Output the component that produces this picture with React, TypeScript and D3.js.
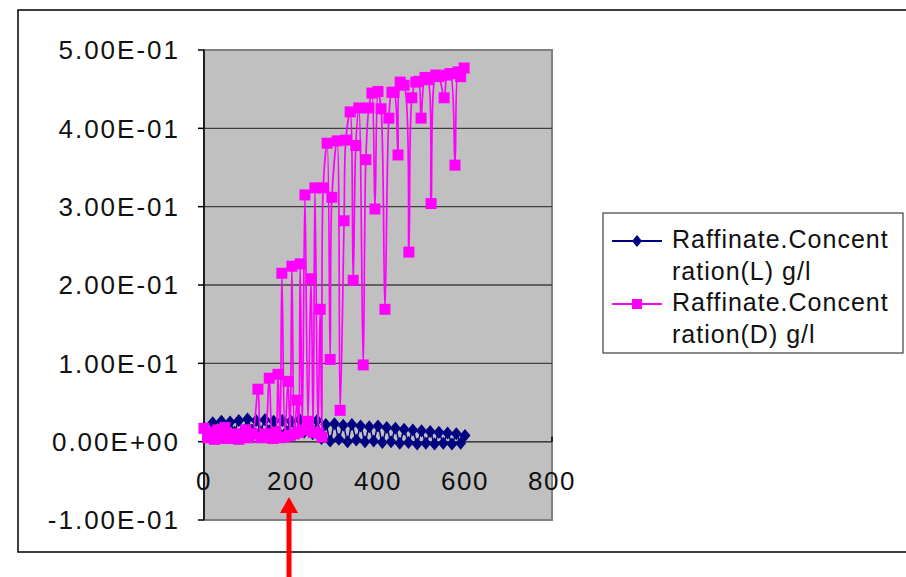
import React from "react";
import * as d3 from "d3";

const WIDTH = 906;
const HEIGHT = 577;
const PLOT = { left: 204, right: 552, top: 50, bottom: 520 };

const xTicks = [0, 200, 400, 600, 800];
const yTicks = [-0.1, 0, 0.1, 0.2, 0.3, 0.4, 0.5];
const yTickLabels = ["-1.00E-01", "0.00E+00", "1.00E-01", "2.00E-01", "3.00E-01", "4.00E-01", "5.00E-01"];

const seriesNames = [
  ["Raffinate.Concent", "ration(L) g/l"],
  ["Raffinate.Concent", "ration(D) g/l"],
];

// Raffinate L (x, g/l)
const lTime = [
  0, 10, 20, 30, 40, 50, 60, 70, 80, 90, 100, 110, 120, 130, 140, 150, 160, 170, 180, 190, 200,
  210, 220, 230, 240, 250, 260, 270, 280, 290, 300, 310, 320, 330, 340, 350, 360, 370, 380, 390,
  400, 410, 420, 430, 440, 450, 460, 470, 480, 490, 500, 510, 520, 530, 540, 550, 560, 570, 580,
  590, 600,
];
const lValues = [
  0.018, 0.01, 0.024, 0.012, 0.026, 0.013, 0.025, 0.012, 0.027, 0.014, 0.029, 0.015, 0.027, 0.013,
  0.028, 0.014, 0.026, 0.012, 0.027, 0.013, 0.026, 0.011, 0.028, 0.012, 0.025, 0.01, 0.027, 0.004,
  0.022, 0.001, 0.023, 0.003, 0.021, 0.0, 0.022, 0.002, 0.02, 0.0, 0.019, 0.001, 0.02, -0.001,
  0.018, 0.0, 0.017, -0.002, 0.016, -0.001, 0.015, -0.003, 0.014, -0.002, 0.013, -0.003, 0.012,
  -0.002, 0.011, -0.003, 0.01, -0.002, 0.008,
];

// Raffinate D (x, g/l)
const dTime = [
  0, 8, 16, 24, 32, 40, 48, 56, 64, 72, 80, 88, 96, 104, 112, 124, 132, 140, 150, 158, 165, 170,
  175, 179, 186, 193, 198, 202, 208, 214, 218, 221, 226, 232, 239, 246, 251, 255, 262, 267, 271,
  274, 283, 290, 294, 306, 313, 322, 326, 336, 343, 349, 356, 366, 372, 379, 386, 393, 400, 407,
  416, 425, 432, 437, 446, 451, 460, 471, 478, 487, 493, 499, 508, 515, 522, 533, 540, 552, 559,
  566, 577, 584, 590, 598,
];
const dValues = [
  0.017, 0.005, 0.012, 0.003, 0.015, 0.004, 0.018, 0.006, 0.004, 0.01, 0.003, 0.008, 0.015, 0.005,
  0.01, 0.067, 0.005, 0.01, 0.081, 0.004, 0.012, 0.086, 0.005, 0.215, 0.006, 0.077, 0.008, 0.224,
  0.01, 0.053, 0.012, 0.227, 0.015, 0.315, 0.026, 0.208, 0.012, 0.324, 0.011, 0.169, 0.006, 0.324,
  0.381, 0.105, 0.312, 0.384, 0.04, 0.282, 0.385, 0.421, 0.206, 0.378, 0.426, 0.098, 0.36, 0.426,
  0.445, 0.297, 0.447, 0.425, 0.169, 0.413, 0.446, 0.446, 0.366, 0.459, 0.455, 0.242, 0.439, 0.459,
  0.46, 0.413, 0.465, 0.462, 0.304, 0.468, 0.466, 0.439, 0.468, 0.47, 0.353, 0.472, 0.466, 0.477,
];

const NAVY = "#000080";
const MAGENTA = "#FF00FF";
const FONT = "'Liberation Sans', Arial, sans-serif";

export default function App() {
  const x = d3.scaleLinear().domain([0, 800]).range([PLOT.left, PLOT.right]);
  const y = d3.scaleLinear().domain([-0.1, 0.5]).range([PLOT.bottom, PLOT.top]);

  const lPts: [number, number][] = lTime.map((t, i) => [t, lValues[i]]);
  const dPts: [number, number][] = dTime.map((t, i) => [t, dValues[i]]);

  const line = d3
    .line<[number, number]>()
    .x((d) => x(d[0]))
    .y((d) => y(d[1]))
    .curve(d3.curveCatmullRom.alpha(0.5));

  const diamond = (cx: number, cy: number, rx: number, ry: number) =>
    `M${cx},${cy - ry}L${cx + rx},${cy}L${cx},${cy + ry}L${cx - rx},${cy}Z`;

  const legendX = 603;
  const legendY = 213;

  return (
    <svg
      width={WIDTH}
      height={HEIGHT}
      style={{ position: "absolute", left: 0, top: 0, background: "#fff" }}
      fontFamily={FONT}
    >
      {/* outer chart frame */}
      <rect x={18} y={10} width={920} height={542} fill="#fff" stroke="#000" strokeWidth={1.5} />

      {/* plot area */}
      <rect
        x={PLOT.left}
        y={PLOT.top}
        width={PLOT.right - PLOT.left}
        height={PLOT.bottom - PLOT.top}
        fill="#C0C0C0"
        stroke="#808080"
        strokeWidth={2}
      />

      {/* gridlines */}
      {yTicks
        .filter((v) => v > -0.1 && v < 0.5)
        .map((v) => (
          <line
            key={"g" + v}
            x1={PLOT.left}
            x2={PLOT.right}
            y1={y(v)}
            y2={y(v)}
            stroke="#404040"
            strokeWidth={1.3}
          />
        ))}

      {/* y axis */}
      <line x1={PLOT.left} x2={PLOT.left} y1={PLOT.top} y2={PLOT.bottom} stroke="#000" strokeWidth={1.5} />
      {yTicks.map((v, i) => (
        <g key={"yt" + v}>
          <line x1={PLOT.left - 6} x2={PLOT.left} y1={y(v)} y2={y(v)} stroke="#000" strokeWidth={1.5} />
          <text
            x={180}
            y={y(v)}
            dy="0.36em"
            textAnchor="end"
            fontSize={26}
            letterSpacing={2}
            fill="#111"
          >
            {yTickLabels[i]}
          </text>
        </g>
      ))}

      {/* x axis at zero */}
      <line x1={PLOT.left} x2={PLOT.right} y1={y(0)} y2={y(0)} stroke="#404040" strokeWidth={1.5} />
      <line x1={PLOT.right} x2={PLOT.right} y1={y(0) - 5} y2={y(0)} stroke="#000" strokeWidth={1.5} />
      {xTicks.map((v) => (
        <text
          key={"xt" + v}
          x={x(v)}
          y={481}
          dy="0.36em"
          textAnchor="middle"
          fontSize={26}
          letterSpacing={1.5}
          fill="#111"
        >
          {v}
        </text>
      ))}

      {/* series L */}
      <path d={line(lPts) ?? ""} fill="none" stroke={NAVY} strokeWidth={1.5} />
      {lPts.map((d, i) => (
        <path key={"l" + i} d={diamond(x(d[0]), y(d[1]), 5.5, 6.5)} fill={NAVY} />
      ))}

      {/* series D */}
      <path d={line(dPts) ?? ""} fill="none" stroke={MAGENTA} strokeWidth={1.7} />
      {dPts.map((d, i) => (
        <rect key={"d" + i} x={x(d[0]) - 5.5} y={y(d[1]) - 5.5} width={11} height={11} fill={MAGENTA} />
      ))}

      {/* legend */}
      <rect x={legendX} y={legendY} width={300} height={140} fill="#fff" stroke="#404040" strokeWidth={1.2} />
      {seriesNames.map((lines, i) => {
        const cy = legendY + 28 + i * 63;
        const color = i === 0 ? NAVY : MAGENTA;
        return (
          <g key={"lg" + i}>
            <line x1={legendX + 9} x2={legendX + 59} y1={cy} y2={cy} stroke={color} strokeWidth={2} />
            {i === 0 ? (
              <path d={diamond(legendX + 34, cy, 5, 6)} fill={color} />
            ) : (
              <rect x={legendX + 29} y={cy - 5} width={10} height={10} fill={color} />
            )}
            {lines.map((t, j) => (
              <text
                key={j}
                x={legendX + 69}
                y={cy - 2 + j * 32}
                dy="0.36em"
                fontSize={25}
                letterSpacing={1}
                fill="#111"
              >
                {t}
              </text>
            ))}
          </g>
        );
      })}

      {/* red arrow pointing at 200 */}
      <line x1={x(200) - 2} x2={x(200) - 2} y1={510} y2={HEIGHT} stroke="#FF0000" strokeWidth={5} />
      <path
        d={`M${x(200) - 2},497L${x(200) + 7},513L${x(200) - 11},513Z`}
        fill="#FF0000"
      />
    </svg>
  );
}
